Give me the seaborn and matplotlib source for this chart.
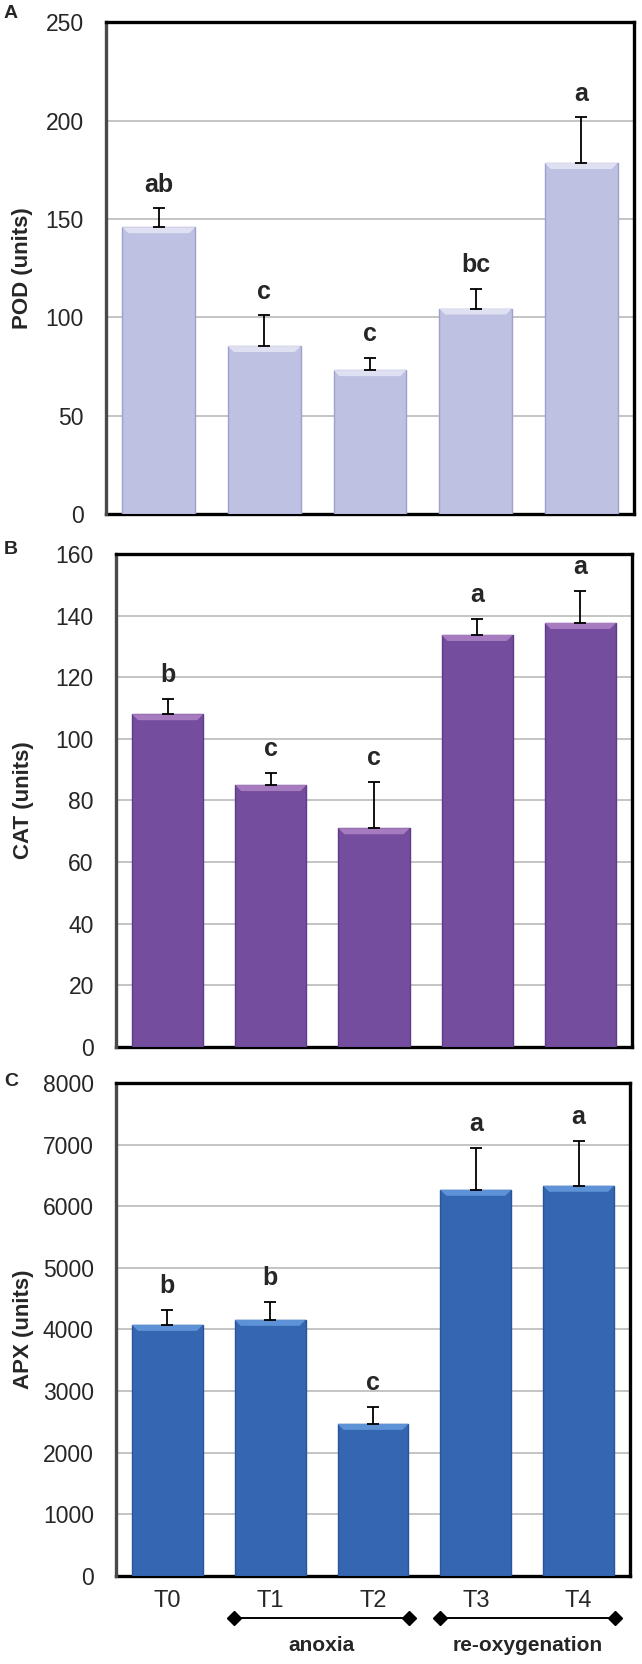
import numpy as np
import pandas as pd
import matplotlib
matplotlib.use("Agg")
import matplotlib.pyplot as plt
from matplotlib.patches import Polygon
import seaborn as sns

# ---- data ----
categories = ["T0", "T1", "T2", "T3", "T4"]
pod_mean = [145.8, 85.4, 73.2, 104.5, 178.4]
pod_err = [9.7, 15.6, 6.1, 10.1, 23.3]
pod_letters = ["ab", "c", "c", "bc", "a"]

cat_mean = [108.0, 85.0, 71.0, 133.7, 137.6]
cat_err = [5.0, 4.0, 15.0, 5.2, 10.4]
cat_letters = ["b", "c", "c", "a", "a"]

apx_mean = [4075, 4156, 2468, 6266, 6331]
apx_err = [243, 292, 276, 682, 731]
apx_letters = ["b", "b", "c", "a", "a"]

phase_labels = ["anoxia", "re-oxygenation"]
phase_groups = [(1, 2), (3, 4)]

sns.set_theme(style="white")
plt.rcParams["font.family"] = ["Liberation Sans", "DejaVu Sans"]

fig = plt.figure(figsize=(6.42, 16.64), dpi=100)

panels = [
    dict(rect=[0.165, 0.691, 0.8225, 0.2957], mean=pod_mean, err=pod_err, letters=pod_letters,
         ylabel="POD (units)", ylim=(0, 250), ticks=np.arange(0, 251, 50),
         color="#bfc1e2", hi="#dfe0f2", edge="#9fa1cc", tag="A", tagy=1 - 14 / 1664, labx=-0.138),
    dict(rect=[0.1807, 0.3708, 0.8037, 0.2963], mean=cat_mean, err=cat_err, letters=cat_letters,
         ylabel="CAT (units)", ylim=(0, 160), ticks=np.arange(0, 161, 20),
         color="#744d9e", hi="#a77bbf", edge="#5e3c86", tag="B", tagy=1 - 550 / 1664, labx=-0.159),
    dict(rect=[0.1807, 0.0529, 0.8006, 0.2963], mean=apx_mean, err=apx_err, letters=apx_letters,
         ylabel="APX (units)", ylim=(0, 8000), ticks=np.arange(0, 8001, 1000),
         color="#3566b1", hi="#5d93d6", edge="#2a5599", tag="C", tagy=1 - 1082 / 1664, labx=-0.159),
]

for i, p in enumerate(panels):
    ax = fig.add_axes(p["rect"])
    df = pd.DataFrame({"cat": categories, "val": p["mean"]})
    sns.barplot(data=df, x="cat", y="val", color=p["color"], width=0.69, ax=ax,
                errorbar=None, saturation=1, edgecolor=p["edge"], linewidth=1, zorder=1)
    ax.errorbar(np.arange(len(categories)), p["mean"],
                yerr=[np.zeros(len(categories)), p["err"]], fmt="none",
                ecolor="black", elinewidth=1.3, capsize=4, capthick=1.3, zorder=3)
    ax.set_ylim(*p["ylim"])
    ax.set_xlim(-0.5, len(categories) - 0.5)
    ax.set_yticks(p["ticks"])
    ax.set_yticklabels([str(int(t)) for t in p["ticks"]], fontsize=16.5)
    ax.set_axisbelow(True)
    ax.yaxis.grid(True, color="#b4b4b4", linewidth=1.1)
    ax.xaxis.grid(False)
    ax.tick_params(axis="both", length=0)
    ax.tick_params(axis="y", pad=16)
    ax.set_xlabel("")
    ax.set_ylabel(p["ylabel"], fontsize=16, fontweight="bold")
    ax.yaxis.set_label_coords(p["labx"], 0.5)
    for side in ["top", "right", "bottom"]:
        ax.spines[side].set_color("black")
        ax.spines[side].set_linewidth(2.4)
    ax.spines["bottom"].set_zorder(0.6)
    ax.spines["left"].set_color("#4a4a4a")
    ax.spines["left"].set_linewidth(2.4)

    # bevel highlight on bar tops
    fig.canvas.draw()
    bbox = ax.get_window_extent()
    y_per_px = (p["ylim"][1] - p["ylim"][0]) / bbox.height
    x_per_px = len(categories) / bbox.width
    for patch in list(ax.patches):
        x, w, h = patch.get_x(), patch.get_width(), patch.get_height()
        dy = 6 * y_per_px
        dx = 6 * x_per_px
        poly = Polygon([(x, h), (x + w, h), (x + w - dx, h - dy), (x + dx, h - dy)],
                       closed=True, facecolor=p["hi"], edgecolor="none", zorder=1.5)
        ax.add_patch(poly)

    # significance letters
    for k, (m, e, lab) in enumerate(zip(p["mean"], p["err"], p["letters"])):
        ax.annotate(lab, (k, m + e), xytext=(0, 17), textcoords="offset points",
                    ha="center", va="center", fontsize=18, fontweight="bold")

    fig.text(11 / 642, p["tagy"], p["tag"], fontsize=14, fontweight="bold",
             ha="center", va="center")

    if i < 2:
        ax.set_xticklabels([])
    else:
        ax.set_xticks(range(len(categories)))
        ax.set_xticklabels(categories, fontsize=17)
        ax.tick_params(axis="x", pad=10)
        trans = ax.get_xaxis_transform()
        for (a, b), lab in zip(phase_groups, phase_labels):
            ax.plot([a - 0.35, b + 0.35], [-0.085, -0.085], transform=trans, color="black",
                    linewidth=1.4, marker="D", markersize=7, clip_on=False)
            ax.text((a + b) / 2, -0.14, lab, transform=trans, ha="center", va="center",
                    fontsize=15, fontweight="bold")

fig.savefig("out.png", dpi=100)
